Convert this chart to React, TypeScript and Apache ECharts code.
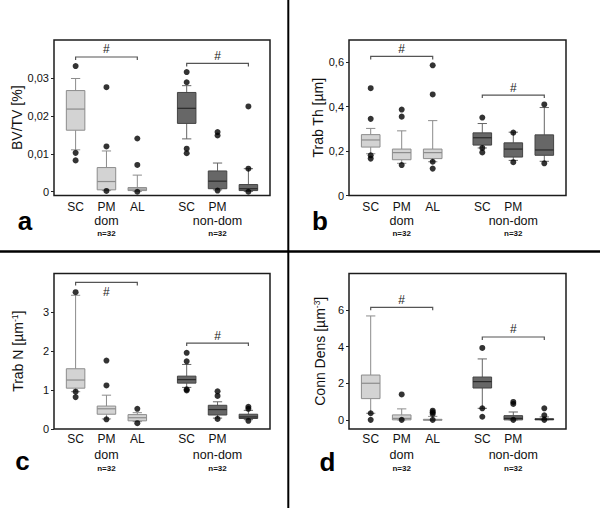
import React, { useEffect, useRef } from "react";
import * as echarts from "echarts";

// ---------- data ----------
const categories = ["SC", "PM", "AL", "SC", "PM", "AL"];
const positions = [1, 2, 3, 4.6, 5.6, 6.6];
const groups = ["dom", "non-dom"];
const sampleSize = "n=32";
const panelLetters = ["a", "b", "c", "d"];

// [lower whisker, Q1, median, Q3, upper whisker]
const bvtvBoxes = [
  [0.0111, 0.0163, 0.0219, 0.0268, 0.03],
  [0.0003, 0.0005, 0.0027, 0.0064, 0.0108],
  [0.0001, 0.0003, 0.0007, 0.0011, 0.0044],
  [0.014, 0.0181, 0.0221, 0.0263, 0.0281],
  [0.0005, 0.0008, 0.0028, 0.0055, 0.0076],
  [0.0001, 0.0003, 0.0008, 0.0019, 0.0061],
];
// [category index, value]
const bvtvOutliers = [
  [0, 0.0333], [0, 0.0103], [0, 0.0083],
  [1, 0.0277], [1, 0.012], [1, 0.0002],
  [2, 0.0141], [2, 0.0071], [2, 0.0],
  [3, 0.0317], [3, 0.029], [3, 0.0114], [3, 0.0102],
  [4, 0.0158], [4, 0.0149], [4, 0.0003],
  [5, 0.0226], [5, 0.0061], [5, 0.0],
];
const bvtvBrackets = [[0, 2, 0.0357], [3, 5, 0.034]];

const trabThBoxes = [
  [0.188, 0.218, 0.25, 0.274, 0.302],
  [0.145, 0.161, 0.193, 0.209, 0.291],
  [0.152, 0.166, 0.193, 0.209, 0.337],
  [0.214, 0.227, 0.26, 0.282, 0.324],
  [0.158, 0.173, 0.209, 0.237, 0.285],
  [0.154, 0.181, 0.205, 0.273, 0.396],
];
const trabThOutliers = [
  [0, 0.483], [0, 0.345], [0, 0.181], [0, 0.166],
  [1, 0.387], [1, 0.355], [1, 0.137],
  [2, 0.586], [2, 0.455], [2, 0.152], [2, 0.121],
  [3, 0.351], [3, 0.214], [3, 0.194],
  [4, 0.283], [4, 0.15],
  [5, 0.41], [5, 0.145],
];
const trabThBrackets = [[0, 2, 0.626], [3, 5, 0.452]];

const trabNBoxes = [
  [0.96, 1.05, 1.26, 1.55, 3.44],
  [0.26, 0.38, 0.52, 0.59, 0.87],
  [0.19, 0.21, 0.29, 0.37, 0.42],
  [1.07, 1.18, 1.27, 1.36, 1.66],
  [0.28, 0.36, 0.5, 0.61, 0.7],
  [0.24, 0.27, 0.31, 0.38, 0.48],
];
const trabNOutliers = [
  [0, 3.52], [0, 0.96], [0, 0.82],
  [1, 1.76], [1, 1.12], [1, 0.25],
  [2, 0.52], [2, 0.15],
  [3, 1.96], [3, 1.74], [3, 1.02], [3, 0.99],
  [4, 0.97], [4, 0.85], [4, 0.26],
  [5, 0.57], [5, 0.52], [5, 0.21],
];
const trabNBrackets = [[0, 2, 3.77], [3, 5, 2.21]];

const connDensBoxes = [
  [0.36, 1.16, 2.0, 2.45, 5.68],
  [0.0, 0.0, 0.08, 0.27, 0.6],
  [0.0, 0.0, 0.01, 0.03, 0.19],
  [0.63, 1.74, 2.09, 2.34, 3.33],
  [0.0, 0.0, 0.08, 0.23, 0.43],
  [0.0, 0.0, 0.03, 0.06, 0.16],
];
const connDensOutliers = [
  [0, 0.36], [0, 0.0],
  [1, 1.39], [1, 0.0],
  [2, 0.5], [2, 0.41], [2, 0.32], [2, 0.0],
  [3, 3.93], [3, 0.63], [3, 0.17],
  [4, 0.98], [4, 0.87], [4, 0.0],
  [5, 0.63], [5, 0.25], [5, 0.0],
];
const connDensBrackets = [[0, 2, 6.15], [3, 5, 4.53]];

const yNames = ["BV/TV [%]", "Trab Th [µm]", "Trab N [µm{s|-1}]", "Conn Dens [µm{s|-3}]"];
const yTickValues = [
  [0, 0.01, 0.02, 0.03],
  [0, 0.2, 0.4, 0.6],
  [0, 1, 2, 3],
  [0, 2, 4, 6],
];
const yRanges = [
  [-0.001, 0.0402],
  [0, 0.7],
  [0, 4],
  [-0.5, 8],
];

// ---------- layout / style ----------
const FONT = '"Liberation Sans", Arial, Helvetica, sans-serif';
const gridRects = [
  { left: 54, top: 40, width: 216, height: 155.5 },
  { left: 349, top: 40, width: 217, height: 155.5 },
  { left: 54, top: 273.5, width: 216, height: 155.5 },
  { left: 349, top: 273.5, width: 217, height: 155.5 },
];
const nameGaps = [28, 22, 29, 22];
const labelMargins = [4, 4, 3, 3];
const groupLineHeights = [15, 15, 17.5, 17.5];
const hashBelowFirst = [false, false, true, false];
const letterPos = [
  [25, 221],
  [320, 221],
  [22.5, 461],
  [327.5, 461.5],
];

const LIGHT = { fill: "#d3d3d3", stroke: "#8c8c8c", median: "#8c8c8c", whisker: "#8c8c8c" };
const DARK = { fill: "#676767", stroke: "#444444", median: "#2a2a2a", whisker: "#666666" };

const panels = [
  { boxes: bvtvBoxes, outliers: bvtvOutliers, brackets: bvtvBrackets },
  { boxes: trabThBoxes, outliers: trabThOutliers, brackets: trabThBrackets },
  { boxes: trabNBoxes, outliers: trabNOutliers, brackets: trabNBrackets },
  { boxes: connDensBoxes, outliers: connDensOutliers, brackets: connDensBrackets },
];

function fmtY(v: number) {
  if (v === 0) return "0";
  return String(+v.toFixed(4)).replace(".", ",");
}

function fmtX(panelIdx: number) {
  return (v: number) => {
    const i = positions.findIndex((p) => Math.abs(p - v) < 1e-6);
    if (i < 0) return "";
    const cat = categories[i];
    if (i === 1 || i === 4) {
      return `{c|${cat}}\n{g|${groups[i === 1 ? 0 : 1]}}\n{n|${sampleSize}}`;
    }
    return `{c|${cat}}`;
  };
}

function buildOption() {
  const grid: any[] = [];
  const xAxis: any[] = [];
  const yAxis: any[] = [];
  const series: any[] = [];

  panels.forEach((panel, pi) => {
    grid.push({
      ...gridRects[pi],
      show: true,
      borderColor: "#1c1c1c",
      borderWidth: 1.5,
      backgroundColor: "transparent",
      containLabel: false,
    });
    xAxis.push({
      type: "value",
      gridIndex: pi,
      min: 0.3,
      max: 7.3,
      axisLine: { show: false },
      axisTick: { show: false },
      splitLine: { show: false },
      axisLabel: {
        customValues: positions,
        margin: labelMargins[pi],
        formatter: fmtX(pi),
        rich: {
          c: { fontSize: 12, lineHeight: 14, color: "#111", fontFamily: FONT },
          g: { fontSize: 12.5, lineHeight: groupLineHeights[pi], color: "#111", fontFamily: FONT },
          n: { fontSize: 8, lineHeight: 9, color: "#111", fontWeight: "bold", fontFamily: FONT },
        },
      },
    });
    yAxis.push({
      type: "value",
      gridIndex: pi,
      min: yRanges[pi][0],
      max: yRanges[pi][1],
      name: yNames[pi],
      nameLocation: "middle",
      nameGap: nameGaps[pi],
      nameTextStyle: {
        fontSize: 14,
        color: "#111",
        fontFamily: FONT,
        rich: {
          s: { fontSize: 8.5, verticalAlign: "top", color: "#111", fontFamily: FONT, padding: [0, 0, 6, 0] },
        },
      },
      axisLine: { show: false },
      splitLine: { show: false },
      axisTick: {
        show: true,
        customValues: yTickValues[pi],
        length: 3,
        lineStyle: { color: "#222", width: 1 },
      },
      axisLabel: {
        customValues: yTickValues[pi],
        margin: 5,
        fontSize: 11,
        color: "#111",
        fontFamily: FONT,
        formatter: fmtY,
      },
    });

    // boxes
    series.push({
      type: "custom",
      xAxisIndex: pi,
      yAxisIndex: pi,
      z: 2,
      encode: { x: 0, y: [1, 2, 3, 4, 5] },
      data: panel.boxes.map((b, i) => [positions[i], ...b]),
      renderItem: (params: any, api: any) => {
        const x = api.value(0);
        const lo = api.coord([x, api.value(1)]);
        const q1 = api.coord([x, api.value(2)]);
        const med = api.coord([x, api.value(3)]);
        const q3 = api.coord([x, api.value(4)]);
        const hi = api.coord([x, api.value(5)]);
        const half = api.size([0.6, 0])[0] / 2;
        const cap = api.size([0.3, 0])[0] / 2;
        const c = params.dataIndex < 3 ? LIGHT : DARK;
        const cx = lo[0];
        const ls = { stroke: c.whisker, lineWidth: 1 };
        return {
          type: "group",
          children: [
            { type: "line", shape: { x1: cx, y1: lo[1], x2: cx, y2: q1[1] }, style: ls },
            { type: "line", shape: { x1: cx, y1: q3[1], x2: cx, y2: hi[1] }, style: ls },
            { type: "line", shape: { x1: cx - cap, y1: lo[1], x2: cx + cap, y2: lo[1] }, style: ls },
            { type: "line", shape: { x1: cx - cap, y1: hi[1], x2: cx + cap, y2: hi[1] }, style: ls },
            {
              type: "rect",
              shape: { x: cx - half, y: q3[1], width: half * 2, height: Math.max(q1[1] - q3[1], 1) },
              style: { fill: c.fill, stroke: c.stroke, lineWidth: 1 },
            },
            {
              type: "line",
              shape: { x1: cx - half, y1: med[1], x2: cx + half, y2: med[1] },
              style: { stroke: c.median, lineWidth: 1.2 },
            },
          ],
        };
      },
    });

    // outliers
    series.push({
      type: "scatter",
      xAxisIndex: pi,
      yAxisIndex: pi,
      z: 4,
      symbol: "circle",
      symbolSize: 6,
      itemStyle: { color: "#000" },
      data: panel.outliers.map((o) => [positions[o[0]], o[1]]),
    });

    // significance brackets
    series.push({
      type: "custom",
      xAxisIndex: pi,
      yAxisIndex: pi,
      z: 3,
      encode: { x: [0, 1], y: 2 },
      data: panel.brackets.map((b) => [positions[b[0]], positions[b[1]], b[2]]),
      renderItem: (params: any, api: any) => {
        const p1 = api.coord([api.value(0), api.value(2)]);
        const p2 = api.coord([api.value(1), api.value(2)]);
        const below = params.dataIndex === 0 && hashBelowFirst[pi];
        return {
          type: "group",
          children: [
            {
              type: "polyline",
              shape: {
                points: [
                  [p1[0], p1[1] + 3],
                  [p1[0], p1[1]],
                  [p2[0], p2[1]],
                  [p2[0], p2[1] + 3],
                ],
              },
              style: { stroke: "#555", lineWidth: 1.2, fill: null },
            },
            {
              type: "text",
              x: (p1[0] + p2[0]) / 2,
              y: below ? p1[1] + 10 : p1[1] - 7.5,
              style: {
                text: "#",
                fill: "#222",
                font: `12px ${FONT}`,
                align: "center",
                verticalAlign: "middle",
              },
            },
          ],
        };
      },
    });
  });

  const graphic: any[] = [
    { type: "line", shape: { x1: 288.3, y1: 0, x2: 288.3, y2: 508 }, style: { stroke: "#000", lineWidth: 2 } },
    { type: "line", shape: { x1: 0, y1: 251.5, x2: 600, y2: 251.5 }, style: { stroke: "#000", lineWidth: 2.5 } },
    ...panelLetters.map((t, i) => ({
      type: "text",
      x: letterPos[i][0],
      y: letterPos[i][1],
      style: {
        text: t,
        fill: "#000",
        font: `bold 26px ${FONT}`,
        align: "center",
        verticalAlign: "middle",
      },
    })),
  ];

  return {
    animation: false,
    backgroundColor: "#fff",
    textStyle: { fontFamily: FONT },
    grid,
    xAxis,
    yAxis,
    series,
    graphic,
  };
}

export default function App() {
  const ref = useRef<HTMLDivElement>(null);
  useEffect(() => {
    if (!ref.current) return;
    const chart = echarts.init(ref.current, undefined, { renderer: "svg" });
    chart.setOption(buildOption() as any);
    return () => chart.dispose();
  }, []);
  return (
    <div
      ref={ref}
      style={{ position: "absolute", left: 0, top: 0, width: 600, height: 508, background: "#fff" }}
    />
  );
}
